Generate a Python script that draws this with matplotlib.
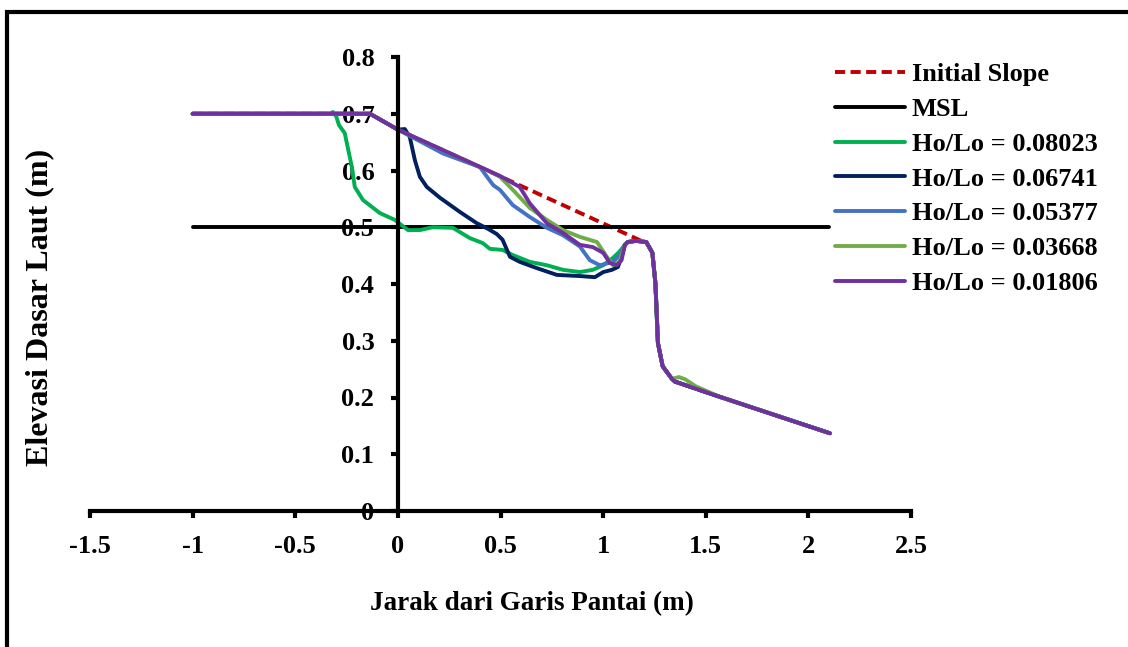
import numpy as np
import matplotlib

matplotlib.use('Agg')
import matplotlib.pyplot as plt
from matplotlib.patches import Rectangle

plt.rcParams['font.family'] = ['Liberation Serif', 'DejaVu Serif']
plt.rcParams['font.weight'] = 'bold'

# ---------- data ----------
# common toe part of all profiles (after the bar crest)
tail_x = [1.12, 1.16, 1.21, 1.24, 1.255, 1.267, 1.29, 1.335, 1.35, 1.57, 2.105]
tail_y = [0.474, 0.476, 0.474, 0.455, 0.40, 0.296, 0.255, 0.233, 0.228, 0.201, 0.137]

slope_x = [-1.0, -0.136, 0.0, 1.18] + tail_x[2:]
slope_y = [0.700, 0.700, 0.672, 0.477] + tail_y[2:]

msl_x = [-1.0, 2.1]
msl_y = [0.5, 0.5]

g1_x = [-1.0, -0.33, -0.317, -0.30, -0.287, -0.259, -0.224, -0.21, -0.17, -0.088, -0.015, 0.049,
        0.107, 0.17, 0.268, 0.35, 0.414, 0.448, 0.51, 0.56, 0.643, 0.726, 0.804, 0.887, 0.95, 1.0,
        1.048, 1.08, 1.106] + tail_x
g1_y = [0.700, 0.700, 0.703, 0.695, 0.68, 0.666, 0.606, 0.571, 0.548, 0.525, 0.513, 0.495,
        0.495, 0.500, 0.499, 0.481, 0.472, 0.462, 0.460, 0.451, 0.439, 0.433, 0.425, 0.421, 0.425, 0.433,
        0.446, 0.457, 0.469] + tail_y

g2_x = [-1.0, -0.136, 0.0, 0.034, 0.058, 0.083, 0.107, 0.141, 0.205, 0.302, 0.385, 0.44, 0.482,
        0.51, 0.546, 0.594, 0.677, 0.775, 0.887, 0.96, 1.0, 1.043, 1.072, 1.09, 1.106] + tail_x
g2_y = [0.700, 0.700, 0.672, 0.673, 0.659, 0.618, 0.589, 0.571, 0.552, 0.527, 0.507, 0.497, 0.488,
        0.478, 0.448, 0.439, 0.428, 0.416, 0.414, 0.412, 0.421, 0.425, 0.430, 0.448, 0.469] + tail_y

g3_x = [-1.0, -0.136, 0.0, 0.22, 0.40, 0.434, 0.465, 0.497, 0.56, 0.643, 0.726, 0.804, 0.887, 0.935,
        0.984, 1.048, 1.08, 1.106] + tail_x
g3_y = [0.700, 0.700, 0.672, 0.630, 0.606, 0.589, 0.574, 0.566, 0.539, 0.518, 0.499, 0.486, 0.466, 0.442,
        0.433, 0.439, 0.450, 0.469] + tail_y

g4_x = [-1.0, -0.136, 0.0, 0.45, 0.497, 0.56, 0.643, 0.726, 0.804, 0.887, 0.97, 1.018, 1.048, 1.08,
        1.106, 1.12, 1.16, 1.21, 1.24, 1.255, 1.267, 1.29, 1.335, 1.37, 1.40, 1.45, 1.57, 2.105]
g4_y = [0.700, 0.700, 0.672, 0.598, 0.589, 0.566, 0.534, 0.513, 0.495, 0.483, 0.474, 0.448, 0.433, 0.439,
        0.469, 0.474, 0.476, 0.474, 0.455, 0.40, 0.296, 0.255, 0.233, 0.236, 0.232, 0.220, 0.201, 0.137]

g5_x = [-1.0, -0.136, 0.0, 0.50, 0.594, 0.643, 0.726, 0.804, 0.887, 0.95, 1.0, 1.033, 1.067, 1.09,
        1.106] + tail_x
g5_y = [0.700, 0.700, 0.672, 0.590, 0.571, 0.542, 0.507, 0.490, 0.469, 0.465, 0.455, 0.437, 0.433, 0.442,
        0.469] + tail_y

labels = ['Initial Slope', 'MSL', 'Ho/Lo = 0.08023', 'Ho/Lo = 0.06741',
          'Ho/Lo = 0.05377', 'Ho/Lo = 0.03668', 'Ho/Lo = 0.01806']
xticks = [-1.5, -1.0, -0.5, 0.0, 0.5, 1.0, 1.5, 2.0, 2.5]
xtick_labels = ['-1.5', '-1', '-0.5', '0', '0.5', '1', '1.5', '2', '2.5']
yticks = [0.0, 0.1, 0.2, 0.3, 0.4, 0.5, 0.6, 0.7, 0.8]
ytick_labels = ['0', '0.1', '0.2', '0.3', '0.4', '0.5', '0.6', '0.7', '0.8']

# ---------- plot ----------
fig = plt.figure(figsize=(11.28, 6.47), dpi=100)
ax = fig.add_axes([90 / 1128, 1 - 511 / 647, 821 / 1128, 454 / 647])

lw = 2.8
kw = dict(lw=lw, solid_joinstyle='round', solid_capstyle='round')
ax.plot(slope_x, slope_y, color='#C00000', ls=(0, (2.6, 1.4)), lw=lw, label=labels[0])
ax.plot(msl_x, msl_y, color='black', label=labels[1], **kw)
ax.plot(g1_x, g1_y, color='#00B050', label=labels[2], **kw)
ax.plot(g2_x, g2_y, color='#002060', label=labels[3], **kw)
ax.plot(g3_x, g3_y, color='#4472C4', label=labels[4], **kw)
ax.plot(g4_x, g4_y, color='#70AD47', label=labels[5], **kw)
ax.plot(g5_x, g5_y, color='#7030A0', label=labels[6], **kw)

ax.set_xlim(-1.5, 2.5)
ax.set_ylim(0, 0.8)
ax.spines['left'].set_position(('data', 0))
ax.spines['bottom'].set_position(('data', 0))
ax.spines['right'].set_visible(False)
ax.spines['top'].set_visible(False)
for s in ['left', 'bottom']:
    ax.spines[s].set_linewidth(3)

ax.set_xticks(xticks)
ax.set_xticklabels(xtick_labels)
ax.set_yticks(yticks)
ax.set_yticklabels(ytick_labels)
ax.tick_params(direction='out', length=5, width=3, pad=12, labelsize=19)
for t in ax.get_xticklabels() + ax.get_yticklabels():
    t.set_fontweight('bold')

fig.text(532 / 1128, 1 - 604 / 647, 'Jarak dari Garis Pantai (m)', ha='center', va='center',
         fontsize=19.5, fontweight='bold')
fig.text(40 / 1128, 1 - 307 / 647, 'Elevasi Dasar Laut (m)', ha='center', va='center',
         rotation=90, fontsize=23, fontweight='bold')

fig.legend(loc='upper left', bbox_to_anchor=(811 / 1128, 1 - 39 / 647), frameon=False,
           handlelength=2.65, handletextpad=0.27, labelspacing=0.43,
           prop={'size': 19, 'weight': 'bold'})

# outer frame (runs off the right and bottom edges)
fig.patches.append(Rectangle((7 / 1128, -0.5), 2, 0.5 + 1 - 12 / 647, transform=fig.transFigure,
                             fill=False, lw=3, ec='black'))

fig.savefig('out.png', dpi=100)
